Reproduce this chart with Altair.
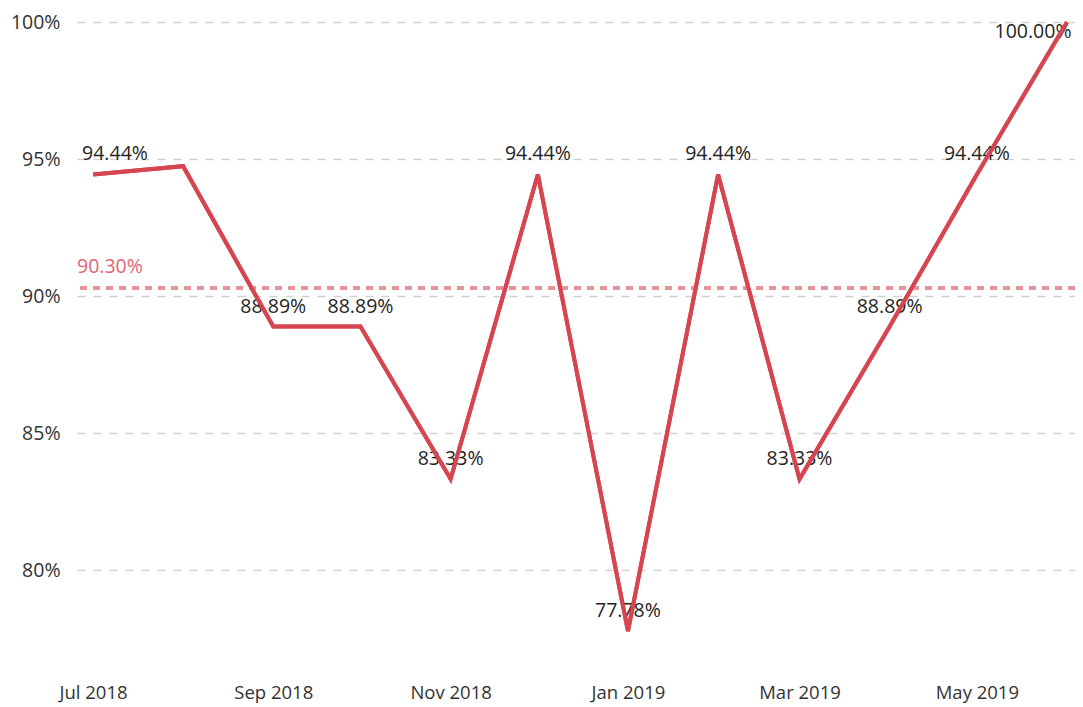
import altair as alt
import pandas as pd

months = ["2018-07-01", "2018-08-01", "2018-09-01", "2018-10-01", "2018-11-01",
          "2018-12-01", "2019-01-01", "2019-02-01", "2019-03-01", "2019-04-01",
          "2019-05-01", "2019-06-01"]
values = [0.9444, 0.9474, 0.8889, 0.8889, 0.8333, 0.9444, 0.7778, 0.9444,
          0.8333, 0.8889, 0.9444, 1.0]
labels = ["94.44%", "", "88.89%", "88.89%", "83.33%", "94.44%", "77.78%",
          "94.44%", "83.33%", "88.89%", "94.44%", "100.00%"]
ref_value = [0.903]
ref_label = ["90.30%"]
y_ticks = [0.80, 0.85, 0.90, 0.95, 1.00]

df = pd.DataFrame({"month": [m + "T00:00:00Z" for m in months],
                   "value": values, "label": labels})
ref = pd.DataFrame({"ref": ref_value, "txt": ref_label})

FONT = "Open Sans"
LINE = "#D64550"
FS = 19.5

x_scale = alt.Scale(type="utc",
                    domain=[alt.DateTime(year=2018, month=6, date=25, hours=12, utc=True),
                            alt.DateTime(year=2019, month=6, date=3, hours=18, utc=True)])
y_scale = alt.Scale(domain=[0.76, 1.0], nice=False, zero=False)

x_enc = alt.X("month:T", scale=x_scale, title=None,
              axis=alt.Axis(format="%b %Y", tickCount={"interval": "month", "step": 2},
                            grid=False, domain=False, ticks=False, labelPadding=3,
                            labelFontSize=18.5, labelFont=FONT, labelColor="#333333"))
y_enc = alt.Y("value:Q", scale=y_scale, title=None,
              axis=alt.Axis(values=y_ticks, format=".0%", grid=True,
                            gridDash=[8, 8], gridColor="#D2D2D2", gridWidth=1.5,
                            domain=False, ticks=False, tickSize=0, labelPadding=17,
                            labelFontSize=FS, labelFont=FONT, labelColor="#333333"))

base = alt.Chart(df)

line = base.mark_line(color=LINE, strokeWidth=4, strokeJoin="miter").encode(x=x_enc, y=y_enc)

mid_labels = base.transform_filter(
    "datum.label != '' && utcmonth(datum.month) != 5 && utcmonth(datum.month) != 6"
).mark_text(font=FONT, fontSize=FS, color="#252423", dy=-20, baseline="middle").encode(
    x="month:T", y="value:Q", text="label:N")

jul_label = base.transform_filter("utcmonth(datum.month) == 6").mark_text(
    font=FONT, fontSize=FS, color="#252423", dy=-20, dx=22, baseline="middle").encode(
    x="month:T", y="value:Q", text="label:N")

jun_label = base.transform_filter("utcmonth(datum.month) == 5").mark_text(
    font=FONT, fontSize=FS, color="#252423", dy=10, dx=-34, baseline="middle").encode(
    x="month:T", y="value:Q", text="label:N")

ref_rule = alt.Chart(ref).mark_rule(color="#E8939C", strokeWidth=4, strokeDash=[7, 6]).encode(
    y=alt.Y("ref:Q", scale=y_scale))
ref_text = alt.Chart(ref).mark_text(font=FONT, fontSize=FS, color="#E26573", align="left",
                                    baseline="middle", dy=-21).encode(
    x=alt.value(0), y=alt.Y("ref:Q", scale=y_scale), text="txt:N")

chart = alt.layer(line, ref_rule, ref_text, mid_labels, jul_label, jun_label, line).properties(
    width=998, height=658,
    autosize=alt.AutoSizeParams(type="none"),
    padding={"left": 69, "top": 14, "right": 0, "bottom": 27},
    background="white",
).configure_view(stroke=None).configure_axis(domain=False, ticks=False)

chart.save("out.html", embed_options={"renderer": "svg", "actions": False})
